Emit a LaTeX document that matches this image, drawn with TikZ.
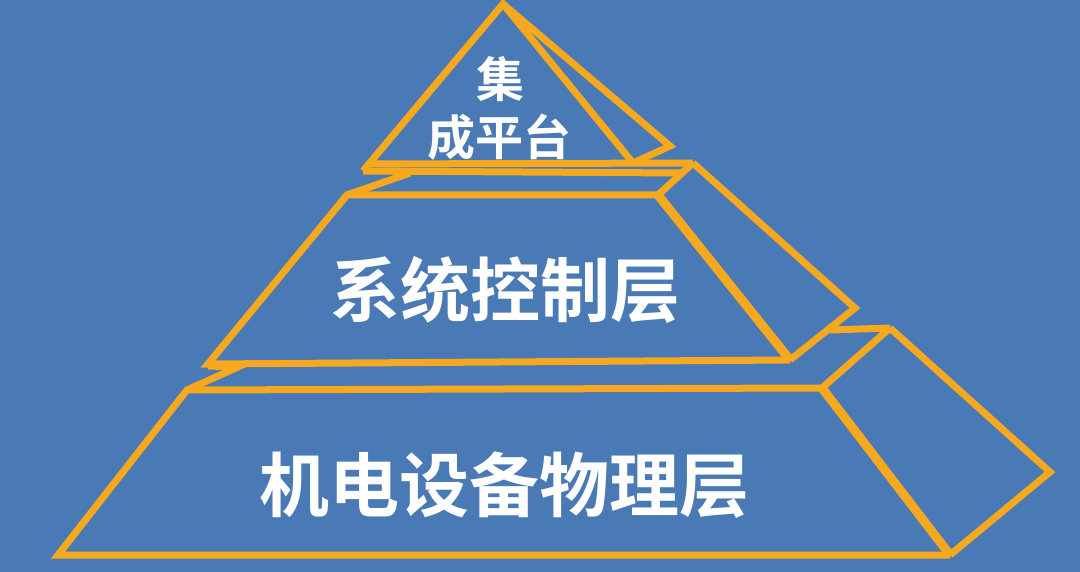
\documentclass[tikz,border=0pt]{standalone}
\usepackage{fontspec}
\newfontfamily\cjk{Noto Sans CJK SC}[BoldFont={Noto Sans CJK SC Bold}]
\definecolor{bg}{HTML}{4A7AB5}
\definecolor{edge}{HTML}{F6A81E}
\tikzset{
  ln/.style={draw=edge, line width=7pt, line join=miter, line cap=butt},
  thick edge/.style={draw=edge, line width=9pt, line join=miter},
  lbl/.style={text=white, inner sep=0pt},
  small lbl/.style={lbl, font=\cjk\bfseries\fontsize{48}{52}\selectfont},
  big lbl/.style={lbl, font=\cjk\bfseries\fontsize{70}{74}\selectfont}
}
\begin{document}
\begin{tikzpicture}[x=1pt,y=-1pt]
\useasboundingbox (0,0) rectangle (1080,572);
\fill[bg] (0,0) rectangle (1080,572);

% --- key points
\coordinate (A) at (503,4);
\coordinate (TL) at (363,171);
\coordinate (TR) at (633,163);
\coordinate (TS) at (670,146);
\coordinate (TLb) at (369,164);
\coordinate (MBR) at (693,163);
\coordinate (ML2) at (682,173);
\coordinate (MZ) at (410,173);
\coordinate (MFTL) at (347,195);
\coordinate (MFTR) at (658,195);
\coordinate (MFBR) at (790,360);
\coordinate (MFBL) at (208,364);
\coordinate (MS) at (855,308);
\coordinate (BZ0) at (208,366);
\coordinate (BZ) at (238,367);
\coordinate (BBk) at (830,330);
\coordinate (BBR) at (890,328);
\coordinate (BFTL) at (187,390);
\coordinate (BFTR) at (822,388);
\coordinate (BFBR) at (950,555);
\coordinate (BFBL) at (58,555);
\coordinate (BS) at (1050,472);

% --- bottom tier
\draw[ln] (BBk) -- (BBR);
\draw[ln] (BBR) -- (BS) -- (BFBR);
\draw[ln] (BBR) -- (BFTR);
\draw[ln] (BZ0) -- (BZ) -- (BFTL);
\draw[ln] (BFTR) -- (BFTL) -- (BFBL) -- (BFBR);
\draw[thick edge] (BFTR) -- (BFBR);

% --- middle tier
\draw[ln] (TLb) -- (MBR);
\draw[ln] (TL) -- (ML2);
\draw[ln] (MZ) -- (MFTL);
\draw[ln] (MBR) -- (MS) -- (MFBR);
\draw[ln] (MBR) -- (MFTR);
\draw[ln] (MFTR) -- (MFTL) -- (MFBL) -- (MFBR);
\draw[thick edge] (MFTR) -- (MFBR);

% --- top triangle
\draw[ln] (TL) -- (A) -- (TR);
\draw[ln] (A) -- (TS) -- (TR);

% --- labels
\node[small lbl] (t1) at (500,79) {集};
\node[small lbl] (t2) at (499,137) {成平台};
\node[big lbl] (m1) at (505,290) {系统控制层};
\node[big lbl] (b1) at (504,485) {机电设备物理层};
\end{tikzpicture}
\end{document}
